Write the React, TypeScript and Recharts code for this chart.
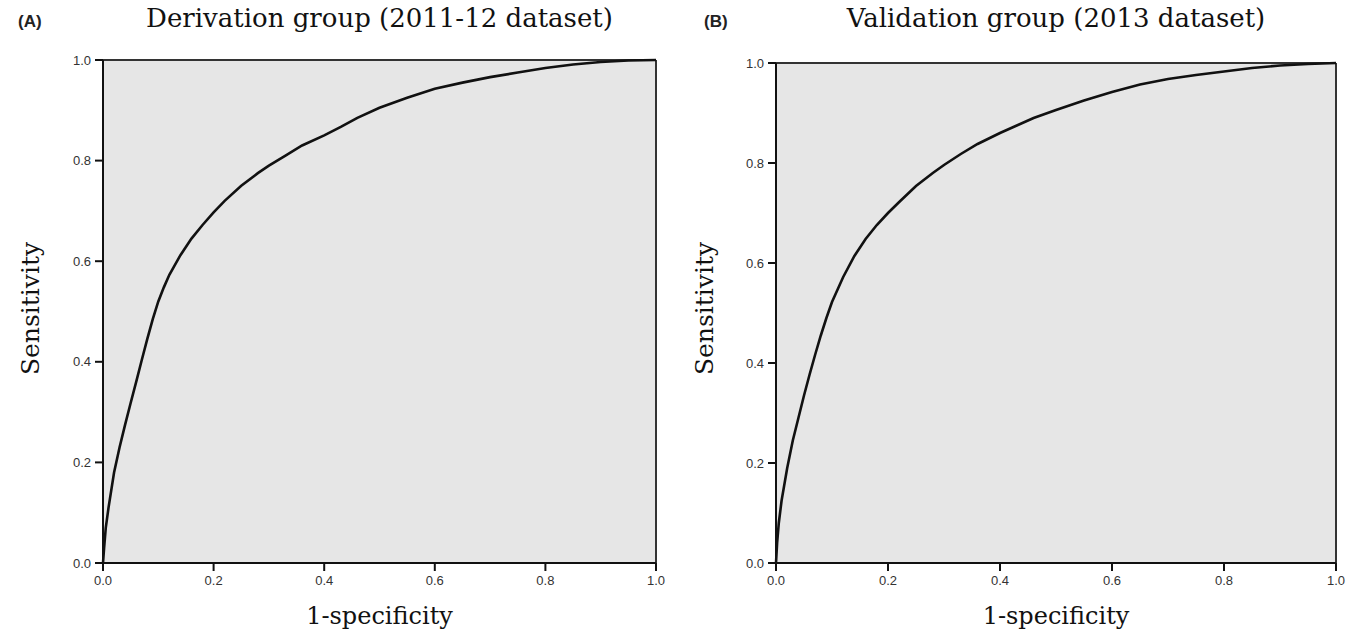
import React from 'react';
import { CartesianGrid, Line, LineChart, ReferenceLine, XAxis, YAxis } from 'recharts';

const xTicks = [0, 0.2, 0.4, 0.6, 0.8, 1];
const yTicks = [0, 0.2, 0.4, 0.6, 0.8, 1];

// derivation group (2011-12)
const fprA = [0, 0.002, 0.005, 0.01, 0.02, 0.03, 0.04, 0.05, 0.06, 0.07, 0.08, 0.09, 0.1, 0.11, 0.12, 0.14, 0.16, 0.18, 0.2, 0.22, 0.25, 0.28, 0.3, 0.33, 0.36, 0.4, 0.43, 0.46, 0.5, 0.55, 0.6, 0.65, 0.7, 0.75, 0.8, 0.85, 0.9, 0.95, 1];
const tprA = [0, 0.03, 0.07, 0.11, 0.18, 0.23, 0.275, 0.318, 0.36, 0.403, 0.445, 0.485, 0.52, 0.548, 0.573, 0.612, 0.645, 0.672, 0.697, 0.72, 0.75, 0.775, 0.79, 0.81, 0.83, 0.85, 0.867, 0.885, 0.905, 0.925, 0.943, 0.955, 0.966, 0.975, 0.984, 0.991, 0.996, 0.999, 1];

// validation group (2013)
const fprB = [0, 0.002, 0.005, 0.01, 0.02, 0.03, 0.04, 0.05, 0.06, 0.07, 0.08, 0.09, 0.1, 0.12, 0.14, 0.16, 0.18, 0.2, 0.22, 0.25, 0.28, 0.3, 0.33, 0.36, 0.4, 0.43, 0.46, 0.5, 0.55, 0.6, 0.65, 0.7, 0.75, 0.8, 0.85, 0.9, 0.95, 1];
const tprB = [0, 0.04, 0.08, 0.125, 0.19, 0.245, 0.29, 0.335, 0.377, 0.417, 0.455, 0.49, 0.522, 0.572, 0.614, 0.648, 0.676, 0.7, 0.722, 0.754, 0.78, 0.796, 0.818, 0.838, 0.86, 0.875, 0.89, 0.906, 0.925, 0.942, 0.957, 0.968, 0.976, 0.983, 0.99, 0.995, 0.998, 1];

const serif = '"DejaVu Serif", serif';
const sans = '"Liberation Sans", Arial, sans-serif';

const tickStyle = { fontSize: 13, fill: '#333', fontFamily: sans };

type PanelProps = {
  fpr: number[];
  tpr: number[];
  left: number;
  width: number;
  margin: { top: number; right: number; bottom: number; left: number };
  letter: string;
  title: string;
  letterX: number;
  labelX: number;
};

const Panel = ({ fpr, tpr, left, width, margin, letter, title, letterX, labelX }: PanelProps) => {
  const data = fpr.map((x, i) => ({ x, y: tpr[i] }));
  const plotLeft = margin.left + 40;
  const plotCenter = plotLeft + (width - plotLeft - margin.right) / 2;
  return (
    <div style={{ position: 'absolute', left, top: 0, width, height: 638 }}>
      <div style={{ position: 'absolute', left: letterX, top: 12, fontFamily: sans, fontWeight: 'bold', fontSize: 17, color: '#222' }}>
        {letter}
      </div>
      <div style={{ position: 'absolute', left: plotCenter - 320, width: 640, top: 3, textAlign: 'center', fontFamily: serif, fontSize: 26, color: '#111' }}>
        {title}
      </div>
      <div style={{ position: 'absolute', left: plotCenter - 200, width: 400, top: 602, textAlign: 'center', fontFamily: serif, fontSize: 24, color: '#111' }}>
        1-specificity
      </div>
      <div
        style={{
          position: 'absolute',
          left: labelX - 100,
          width: 200,
          top: 294,
          textAlign: 'center',
          fontFamily: serif,
          fontSize: 25,
          color: '#111',
          transform: 'rotate(-90deg)',
        }}
      >
        Sensitivity
      </div>
      <LineChart width={width} height={638} data={data} margin={margin}>
        <CartesianGrid fill="#e6e6e6" horizontal={false} vertical={false} />
        <XAxis
          type="number"
          dataKey="x"
          domain={[0, 1]}
          ticks={xTicks}
          tickFormatter={(v) => v.toFixed(1)}
          tick={tickStyle}
          tickSize={8}
          tickMargin={5}
          height={30}
          stroke="#111"
          strokeWidth={2}
        />
        <YAxis
          type="number"
          dataKey="y"
          domain={[0, 1]}
          ticks={yTicks}
          tickFormatter={(v) => v.toFixed(1)}
          tick={tickStyle}
          tickSize={8}
          tickMargin={4}
          width={40}
          stroke="#111"
          strokeWidth={2}
        />
        <ReferenceLine y={1} stroke="#333" strokeWidth={2} />
        <ReferenceLine x={1} stroke="#333" strokeWidth={2} />
        <Line type="linear" dataKey="y" stroke="#111" strokeWidth={2.6} dot={false} isAnimationActive={false} />
      </LineChart>
    </div>
  );
};

export default function App() {
  return (
    <div style={{ position: 'absolute', left: 0, top: 0, width: 1358, height: 638, background: '#fff' }}>
      <Panel
        fpr={fprA}
        tpr={tprA}
        left={0}
        width={680}
        margin={{ top: 60, right: 24, bottom: 45, left: 63 }}
        letter="(A)"
        title="Derivation group (2011-12 dataset)"
        letterX={18}
        labelX={30}
      />
      <Panel
        fpr={fprB}
        tpr={tprB}
        left={680}
        width={678}
        margin={{ top: 63, right: 22, bottom: 45, left: 56 }}
        letter="(B)"
        title="Validation group (2013 dataset)"
        letterX={24}
        labelX={24}
      />
    </div>
  );
}
